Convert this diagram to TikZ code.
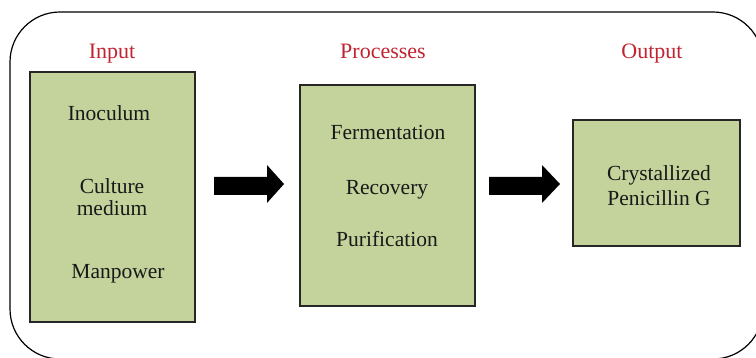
\documentclass[tikz,border=0pt]{standalone}
\usepackage{fontspec}
\setmainfont{Liberation Serif}
\definecolor{boxgreen}{RGB}{195,211,155}
\definecolor{titlered}{RGB}{192,36,48}
\tikzset{
  panel/.style={draw=black!85, line width=1.3pt, fill=boxgreen, inner sep=0pt},
  title/.style={text=titlered, font=\fontsize{22}{24}\selectfont, inner sep=0pt, anchor=base},
  item/.style={text=black!90, font=\fontsize{21.5}{24}\selectfont, inner sep=0pt, anchor=base},
  blockarrow/.style={fill=black, draw=none}
}
\begin{document}
\begin{tikzpicture}[x=1pt,y=-1pt]
\useasboundingbox (0,0) rectangle (756,358);
\begin{scope}
\clip (0,0) rectangle (756,358);
\draw[line width=1.2pt, rounded corners=50pt] (10,12) rectangle (763,359);
\end{scope}
% titles
\node[title] (tin) at (112,59) {Input};
\node[title] (tpr) at (383,59) {Processes};
\node[title] (tout) at (652,59) {Output};
% boxes
\node[panel, minimum width=165pt, minimum height=250pt] (inbox) at (112.5,197) {};
\node[panel, minimum width=175pt, minimum height=221pt] (prbox) at (387.5,195.5) {};
\node[panel, minimum width=167pt, minimum height=126pt] (outbox) at (656.5,183) {};
% input items
\node[item] (ino) at (109,121) {Inoculum};
\node[item] (cul) at (112,194) {Culture};
\node[item] (med) at (112,216) {medium};
\node[item] (man) at (118,279) {Manpower};
% process items
\node[item] (fer) at (388,140) {Fermentation};
\node[item] (rec) at (387,195) {Recovery};
\node[item] (pur) at (387,247) {Purification};
% output
\node[item] (cry) at (659,181) {Crystallized};
\node[item] (pen) at (659,206) {Penicillin G};
% block arrows
\fill[blockarrow] (214,177) -- (267,177) -- (267,165) -- (284,184) -- (267,203) -- (267,195) -- (214,195) -- cycle;
\fill[blockarrow] (489,177) -- (542,177) -- (542,165) -- (560,184) -- (542,203) -- (542,195) -- (489,195) -- cycle;
\end{tikzpicture}
\end{document}
